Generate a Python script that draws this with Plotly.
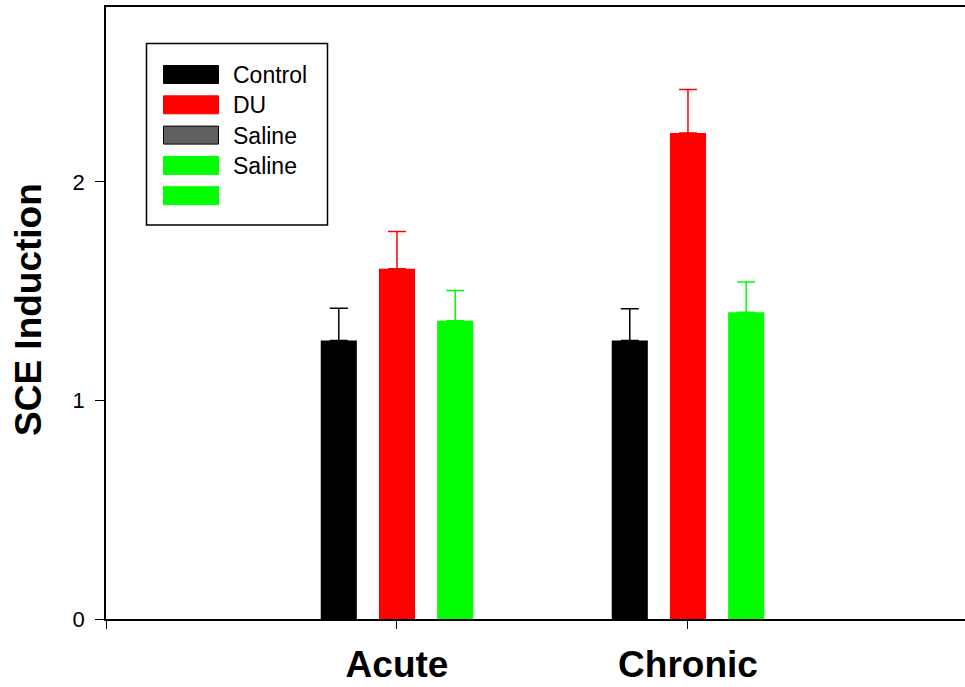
import plotly.graph_objects as go

# ---- data ----
categories = ["Acute", "Chronic"]
cat_pos = [0, 1]
series_names = ["Control", "DU", "Saline"]
series_colors = ["#000000", "#FF0000", "#00FF00"]
values = [
    [1.274, 1.274],   # Control
    [1.603, 2.224],   # DU
    [1.364, 1.404],   # Saline
]
errors = [
    [0.148, 0.146],
    [0.170, 0.198],
    [0.139, 0.138],
]
y_ticks = [0, 1, 2]

legend_labels = ["Control", "DU", "Saline", "Saline", ""]
legend_colors = ["#000000", "#FF0000", "#606060", "#00FF00", "#00FF00"]
legend_borders = ["#000000", "#FF0000", "#000000", "#00FF00", "#00FF00"]

FONT = "Liberation Sans, Arial, sans-serif"
W, H = 965, 687
ML, MR, MT, MB = 106, 0, 7, 68
PW, PH = W - ML - MR, H - MT - MB


def px_x(px):
    return (px - ML) / PW


def px_y(py):
    return (H - MB - py) / PH


fig = go.Figure()
for name, col, vals, errs in zip(series_names, series_colors, values, errors):
    fig.add_trace(go.Bar(
        x=cat_pos, y=vals, name=name, marker=dict(color=col, line=dict(width=0)),
        error_y=dict(type="data", array=errs, arrayminus=[0] * len(errs),
                     symmetric=False, color=col, thickness=1.5, width=9),
        showlegend=False,
    ))

# custom legend box
shapes = [dict(type="rect", xref="paper", yref="paper",
               x0=px_x(146.5), x1=px_x(327.5), y0=px_y(225), y1=px_y(43.5),
               line=dict(color="#000000", width=1.5), fillcolor="#FFFFFF", layer="above")]
annotations = []
row_top = 65.5
row_step = 30.3
for i, (lab, col, bc) in enumerate(zip(legend_labels, legend_colors, legend_borders)):
    t = row_top + i * row_step
    shapes.append(dict(type="rect", xref="paper", yref="paper",
                       x0=px_x(163.5), x1=px_x(218.5), y0=px_y(t + 18), y1=px_y(t),
                       line=dict(color=bc, width=1), fillcolor=col, layer="above"))
    if lab:
        annotations.append(dict(xref="paper", yref="paper", x=px_x(231), y=px_y(t + 9.5),
                                text=lab, showarrow=False, xanchor="left", yanchor="middle",
                                font=dict(family=FONT, size=23, color="#000000")))

# y-axis title
annotations.append(dict(xref="paper", yref="paper", x=px_x(28), y=px_y(310),
                        text="<b>SCE Induction</b>", textangle=-90, showarrow=False,
                        xanchor="center", yanchor="middle",
                        font=dict(family=FONT, size=37, color="#000000")))

fig.update_layout(
    width=W, height=H,
    margin=dict(l=ML, r=MR, t=MT, b=MB, pad=0, autoexpand=False),
    paper_bgcolor="#FFFFFF", plot_bgcolor="#FFFFFF",
    barmode="group", bargap=0.4, bargroupgap=0.38,
    shapes=shapes, annotations=annotations,
    font=dict(family=FONT, color="#000000"),
)
fig.update_xaxes(
    range=[-1, 1.952], tickvals=[-1] + cat_pos, ticktext=[""] + [f"<b>{c}</b>" for c in categories],
    showline=True, linecolor="#000000", linewidth=1.5, mirror=True,
    ticks="outside", ticklen=8, tickwidth=1.2, tickcolor="#000000",
    showgrid=False, zeroline=False, ticklabelstandoff=4, automargin=False,
    tickfont=dict(family=FONT, size=37, color="#000000"),
)
fig.update_yaxes(
    range=[0, 2.8], tickvals=y_ticks, ticktext=[str(v) for v in y_ticks],
    showline=True, linecolor="#000000", linewidth=1.5,
    ticks="outside", ticklen=9, tickwidth=1.2, tickcolor="#000000",
    showgrid=False, zeroline=False, ticklabelstandoff=6, automargin=False,
    tickfont=dict(family=FONT, size=22, color="#000000"),
)

fig.write_html("out.html", config={"displayModeBar": False},
               post_script="document.body.style.margin='0';")
